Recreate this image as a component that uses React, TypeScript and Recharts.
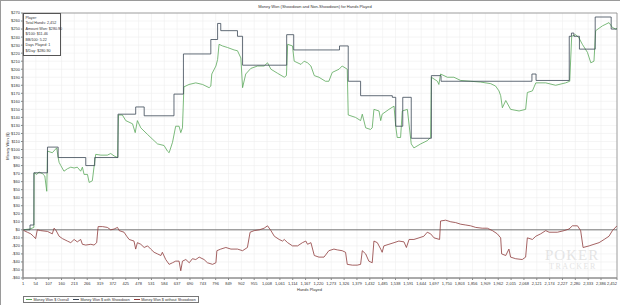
import { CartesianGrid, Line, LineChart, ReferenceArea, ReferenceLine, XAxis, YAxis } from "recharts";

// hand numbers shown on the x axis
const handTicks = [
  1, 54, 107, 160, 213, 266, 319, 372, 425, 478, 531, 584, 637, 690, 743, 796, 849, 902, 955, 1008, 1061, 1114,
  1167, 1220, 1273, 1326, 1379, 1432, 1485, 1538, 1591, 1644, 1697, 1750, 1803, 1856, 1909, 1962, 2015, 2068,
  2121, 2174, 2227, 2280, 2333, 2386, 2452,
];

const dollarTicks = [
  -60, -50, -40, -30, -20, -10, 0, 10, 20, 30, 40, 50, 60, 70, 80, 90, 100, 110, 120, 130, 140, 150, 160, 170,
  180, 190, 200, 210, 220, 230, 240, 250, 260, 270,
];

// Money Won $ Overall
const overallHands = [
  1, 30, 46, 47, 58, 67, 81, 91, 99, 102, 122, 140, 146, 150, 157, 170, 184, 198, 212, 225, 239, 246, 253, 267,
  274, 287, 294, 301, 322, 349, 363, 377, 391, 395, 411, 425, 453, 464, 473, 487, 514, 542, 556, 583, 597, 604,
  618, 631, 645, 652, 659, 665, 686, 714, 742, 769, 776, 780, 797, 804, 810, 824, 845, 872, 886, 900, 907, 920,
  941, 969, 996, 1010, 1024, 1051, 1079, 1088, 1093, 1113, 1120, 1148, 1161, 1175, 1189, 1203, 1222, 1249, 1263,
  1277, 1305, 1318, 1339, 1343, 1373, 1394, 1401, 1415, 1435, 1442, 1449, 1470, 1477, 1483, 1511, 1532, 1539,
  1545, 1559, 1566, 1587, 1603, 1614, 1642, 1669, 1683, 1686, 1711, 1717, 1724, 1752, 1779, 1807, 1848, 1889,
  1931, 1951, 1965, 1972, 1979, 1993, 2013, 2048, 2075, 2082, 2103, 2117, 2158, 2199, 2240, 2257, 2265, 2282,
  2295, 2309, 2330, 2344, 2357, 2364, 2392, 2419, 2433, 2447, 2452,
];
const overallWon = [
  0, 1, 3, 71, 69, 72, 70, 67, 48, 98, 96, 102, 90, 84, 80, 73, 76, 78, 77, 78, 73, 78, 69, 69,
  59, 61, 78, 94, 93, 93, 95, 92, 90, 143, 143, 136, 132, 121, 136, 127, 119, 111, 107, 105, 98, 96,
  109, 129, 129, 121, 127, 178, 181, 183, 181, 177, 179, 194, 204, 212, 231, 229, 227, 224, 223, 214, 177, 194,
  201, 204, 204, 208, 200, 195, 190, 192, 231, 229, 210, 206, 210, 208, 204, 192, 190, 185, 185,
  196, 200, 204, 200, 143, 140, 136, 144, 127, 125, 127, 150, 148, 136, 144, 150, 154, 129,
  115, 115, 148, 150, 107, 102, 107, 111, 115, 190, 185, 181, 194, 190, 190, 186, 185, 184,
  182, 179, 173, 167, 152, 161, 150, 148, 150, 171, 173, 183, 183, 180, 183, 185, 241, 243,
  239, 231, 221, 208, 210, 248, 254, 258, 252, 250, 251,
];

// Money Won $ with Showdown (changes only at showdowns)
const showdownHands = [
  1, 30, 46, 102, 146, 260, 297, 393, 466, 501, 624, 663, 776, 804, 817, 886, 907, 1089, 1118, 1307, 1343, 1394,
  1525, 1539, 1568, 1603, 1686, 1726, 2101, 2118, 2255, 2264, 2274, 2297, 2362, 2428, 2452,
];
const showdownWon = [
  0, 6, 71, 103, 90, 80, 90, 144, 153, 142, 169, 219, 237, 257, 248, 241, 205, 243, 224, 229, 185, 167,
  165, 129, 165, 114, 192, 185, 194, 186, 241, 245, 241, 225, 265, 250, 250,
];

// Money Won $ without Showdown
const noShowdownHands = [
  1, 5, 19, 33, 44, 53, 60, 74, 102, 122, 129, 136, 150, 164, 184, 198, 212, 225, 239, 246, 260, 281, 294, 305,
  311, 329, 349, 363, 377, 391, 398, 418, 429, 439, 459, 466, 473, 487, 501, 515, 528, 542, 556, 570, 576, 590,
  604, 618, 631, 645, 652, 659, 673, 687, 700, 714, 728, 748, 762, 783, 797, 801, 817, 838, 859, 886, 907, 927,
  938, 955, 976, 996, 1010, 1024, 1038, 1058, 1072, 1079, 1093, 1113, 1134, 1154, 1168, 1175, 1189, 1203, 1222,
  1243, 1263, 1284, 1298, 1318, 1332, 1339, 1360, 1380, 1394, 1401, 1415, 1428, 1442, 1449, 1463, 1477, 1483,
  1490, 1511, 1532, 1552, 1573, 1583, 1594, 1614, 1635, 1655, 1669, 1683, 1697, 1720, 1724, 1745, 1766, 1786,
  1807, 1828, 1848, 1869, 1896, 1917, 1938, 1958, 1972, 1976, 1993, 2006, 2013, 2034, 2061, 2075, 2082, 2103,
  2117, 2137, 2158, 2172, 2206, 2234, 2254, 2268, 2289, 2302, 2312, 2337, 2357, 2378, 2399, 2419, 2433, 2452,
];
const noShowdownWon = [
  0, -1, -3, -5, -8, -11, 0, -1, -2, -5, 2, 0, -8, -11, -14, -16, -12, -15, -12, -18, -19, -18, -19, -16,
  4, 4, 3, 0, 1, 3, -1, -3, -8, -12, -14, -24, -16, -18, -22, -20, -24, -28, -30, -32, -28, -37,
  -43, -41, -39, -39, -51, -39, -37, -41, -36, -37, -34, -37, -41, -43, -41, -26, -24, -22, -24, -24, -26, -22,
  -3, -1, 0, 2, 5, -1, -8, -12, -14, -12, -16, -20, -20, -16, -14, -18, -16, -32, -34,
  -34, -26, -24, -25, -26, -28, -43, -44, -44, -43, -26, -30, -39, -41, -14, -16, -24, -28,
  -20, -18, -16, -14, -15, -22, -12, -12, -10, -8, -3, -5, -10, -12, 11, 12, 10, 9,
  7, 6, 5, 3, 2, 2, -1, -5, -10, -30, -32, -24, -34, -36, -37, -34, -10, -12,
  -8, -5, -1, -3, -3, -1, 1, 5, 5, -1, -22, -20, -18, -16, -12, -8, -1, 5,
];

const toPoints = (hands: number[], won: number[]) => hands.map((hand, i) => ({ hand, won: won[i] }));

const overallData = toPoints(overallHands, overallWon);
const showdownData = toPoints(showdownHands, showdownWon);
const noShowdownData = toPoints(noShowdownHands, noShowdownWon);

const font = '"Liberation Sans", Arial, sans-serif';
const green = "#5aa85a";
const slate = "#3b4756";
const red = "#8e3b3b";

const fmtDollar = (v: number) => (v < 0 ? `-$${-v}` : `$${v}`);
const fmtHand = (v: number) => v.toLocaleString("en-US");

const statLines = [
  "Player:",
  "Total Hands: 2,452",
  "Amount Won: $280.90",
  "$/100: $11.46",
  "BB/100: 5.22",
  "Days Played: 1",
  "$/Day: $280.90",
];

const legendItems = [
  { name: "Money Won $ Overall", color: green },
  { name: "Money Won $ with Showdown", color: slate },
  { name: "Money Won $ without Showdown", color: red },
];

// last label would run past the window edge, so right-align it
function HandTick(props: any) {
  const { x, y, payload } = props;
  const last = payload.value === handTicks[handTicks.length - 1];
  return (
    <text x={x} y={y} dy={3.5} textAnchor={last ? "end" : "middle"} fontSize={4} fill="#333" fontFamily={font}>
      {fmtHand(payload.value)}
    </text>
  );
}

export default function App() {
  return (
    <div
      style={{
        position: "absolute",
        left: 0,
        top: 0,
        width: 620,
        height: 305,
        background: "#fff",
        fontFamily: font,
        color: "#333",
        boxSizing: "border-box",
        borderTop: "1px solid #9a9a9a",
        borderLeft: "1px solid #9a9a9a",
        overflow: "hidden",
      }}
    >
      {/* watermark sits under the chart */}
      <div style={{ position: "absolute", left: 544, top: 246, color: "#e4e4e4", fontFamily: "serif", fontSize: 15, letterSpacing: 1 }}>
        POKER
      </div>
      <div style={{ position: "absolute", left: 548, top: 261, color: "#e4e4e4", fontFamily: "serif", fontSize: 8, letterSpacing: 1.5 }}>
        TRACKER
      </div>

      <div style={{ position: "absolute", left: 0, top: 0 }}>
        <LineChart width={620} height={305} margin={{ top: 12, right: 4, bottom: 18, left: 0 }}>
          <CartesianGrid stroke="#eeeeee" strokeWidth={0.6} />
          <XAxis
            dataKey="hand"
            type="number"
            domain={[1, 2452]}
            ticks={handTicks}
            interval={0}
            height={10}
            tickSize={2}
            tickMargin={1}
            stroke="#888"
            tick={<HandTick />}
            allowDataOverflow
          />
          <YAxis
            type="number"
            domain={[-60, 270]}
            ticks={dollarTicks}
            interval={0}
            tickFormatter={fmtDollar}
            width={22}
            tickSize={2}
            tickMargin={1}
            stroke="#888"
            tick={{ fontSize: 4, fill: "#333", fontFamily: font }}
            allowDataOverflow
          />
          <ReferenceArea x1={1} x2={2452} y1={-60} y2={270} fill="none" stroke="#8a8a8a" strokeWidth={0.8} />
          <ReferenceLine y={0} stroke="#555" strokeWidth={0.8} />
          <Line data={overallData} dataKey="won" type="linear" stroke={green} strokeWidth={0.8} dot={false} isAnimationActive={false} />
          <Line data={showdownData} dataKey="won" type="stepAfter" stroke={slate} strokeWidth={0.8} dot={false} isAnimationActive={false} />
          <Line data={noShowdownData} dataKey="won" type="linear" stroke={red} strokeWidth={0.8} dot={false} isAnimationActive={false} />
        </LineChart>
      </div>

      <div style={{ position: "absolute", left: 0, top: 3, width: 620, textAlign: "center", fontSize: 4, paddingLeft: 4 }}>
        Money Won (Showdown and Non-Showdown) for Hands Played
      </div>

      <div
        style={{
          position: "absolute",
          left: 22,
          top: 12,
          width: 38,
          height: 43,
          boxSizing: "border-box",
          border: "0.8px solid #555",
          background: "#fff",
          padding: "1.5px 1.5px",
          fontSize: 3.7,
          lineHeight: "5.6px",
          whiteSpace: "nowrap",
        }}
      >
        {statLines.map((s) => (
          <div key={s}>{s}</div>
        ))}
      </div>

      <div
        style={{
          position: "absolute",
          left: 6,
          top: 145,
          fontSize: 4,
          transform: "translate(-50%, -50%) rotate(-90deg)",
          whiteSpace: "nowrap",
        }}
      >
        Money Won ($)
      </div>

      <div style={{ position: "absolute", left: 296, top: 286, fontSize: 4 }}>Hands Played</div>

      <div
        style={{
          position: "absolute",
          left: 22,
          top: 295,
          height: 7,
          boxSizing: "border-box",
          border: "0.8px solid #777",
          display: "flex",
          alignItems: "center",
          gap: 4,
          padding: "0 2px",
          fontSize: 3.7,
          whiteSpace: "nowrap",
        }}
      >
        {legendItems.map((it) => (
          <span key={it.name} style={{ display: "flex", alignItems: "center", gap: 1.5 }}>
            <span style={{ display: "inline-block", width: 6, height: 0, borderTop: `1px solid ${it.color}` }} />
            {it.name}
          </span>
        ))}
      </div>
    </div>
  );
}
